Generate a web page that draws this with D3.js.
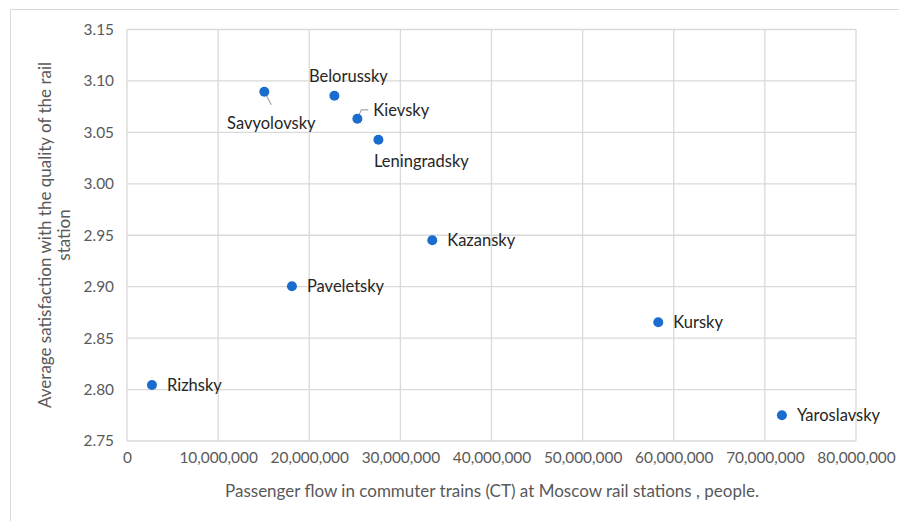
<!DOCTYPE html>
<html><head><meta charset="utf-8">
<script src="https://cdn.jsdelivr.net/npm/d3@7"></script>
<style>
body{margin:0;background:#fff;}
svg{display:block;font-family:Lato,"Open Sans",sans-serif;}
</style></head>
<body><svg id="c" width="899" height="521"></svg>
<script>
const stations = ["Savyolovsky","Belorussky","Kievsky","Leningradsky","Kazansky","Paveletsky","Kursky","Rizhsky","Yaroslavsky"];
const passengerFlow = [15070000,22760000,25280000,27590000,33500000,18100000,58300000,2740000,71870000];
const satisfaction = [3.0895,3.0856,3.0632,3.0428,2.9452,2.9005,2.8655,2.8045,2.7750];
const labelPos = ["below-leader","above","right-leader","below","right","right","right","right","right"];
const xTicks = [0,10000000,20000000,30000000,40000000,50000000,60000000,70000000,80000000];
const yTicks = [2.75,2.80,2.85,2.90,2.95,3.00,3.05,3.10,3.15];
const xTitle = "Passenger flow in commuter trains (CT) at Moscow rail stations , people.";
const yTitle = ["Average satisfaction with the quality of the rail","station"];

const svg = d3.select("#c");
const L=127,R=856,T=29.5,B=441;
const x = d3.scaleLinear().domain([0,80000000]).range([L,R]);
const y = d3.scaleLinear().domain([2.75,3.15]).range([B,T]);

svg.append("rect").attr("x",10.5).attr("y",9.5).attr("width",900).attr("height",520)
  .attr("fill","none").attr("stroke","#d9d9d9");

const grid = svg.append("g");
grid.selectAll(".gx").data(xTicks).join("line")
  .attr("x1",d=>x(d)).attr("x2",d=>x(d)).attr("y1",T).attr("y2",B)
  .attr("stroke","#d9d9d9").attr("stroke-width",1.3);
grid.selectAll(".gy").data(yTicks).join("line")
  .attr("x1",L).attr("x2",R).attr("y1",d=>y(d)).attr("y2",d=>y(d))
  .attr("stroke","#d9d9d9").attr("stroke-width",1.3);

const fmt = d3.format(",");
const xa = svg.append("g").attr("transform",`translate(0,${B})`)
  .call(d3.axisBottom(x).tickValues(xTicks).tickFormat(d=>fmt(d)).tickSize(0).tickPadding(11));
xa.select(".domain").remove();
xa.selectAll("text").attr("fill","#595959").attr("font-size",15.4).attr("font-family","Lato");

const ya = svg.append("g").attr("transform",`translate(${L},0)`)
  .call(d3.axisLeft(y).tickValues(yTicks).tickFormat(d3.format(".2f")).tickSize(0).tickPadding(13));
ya.select(".domain").remove();
ya.selectAll("text").attr("fill","#595959").attr("font-size",15.4).attr("font-family","Lato");

svg.append("text").attr("x",492).attr("y",497).attr("text-anchor","middle")
  .attr("fill","#595959").attr("font-size",17).text(xTitle);
const yt = svg.append("text").attr("transform","translate(51,235) rotate(-90)")
  .attr("text-anchor","middle").attr("fill","#595959").attr("font-size",17);
yTitle.forEach((t,i)=>yt.append("tspan").attr("x",0).attr("dy",i?19:0).text(t));

const data = stations.map((s,i)=>({s,x:passengerFlow[i],y:satisfaction[i],p:labelPos[i]}));
const lg = svg.append("g");
data.forEach(d=>{
  const px=x(d.x), py=y(d.y);
  if(d.p==="below-leader"){
    lg.append("line").attr("x1",px).attr("y1",py).attr("x2",px+7).attr("y2",py+13).attr("stroke","#a6a6a6").attr("stroke-width",1.2);
  }
  if(d.p==="right-leader"){
    lg.append("path").attr("d",`M${px},${py} L${px+4},${py-9} L${px+11},${py-9}`).attr("fill","none").attr("stroke","#a6a6a6").attr("stroke-width",1.2);
  }
});
svg.append("g").selectAll("circle").data(data).join("circle")
  .attr("cx",d=>x(d.x)).attr("cy",d=>y(d.y)).attr("r",5).attr("fill","#1a6dcc");

const lab = svg.append("g").attr("font-size",16.5).attr("fill","#262626");
data.forEach(d=>{
  const px=x(d.x), py=y(d.y);
  if(d.p==="right") lab.append("text").attr("x",px+15).attr("y",py+6).text(d.s);
  else if(d.p==="above") lab.append("text").attr("x",px+14).attr("y",py-14).attr("text-anchor","middle").text(d.s);
  else if(d.p==="below") lab.append("text").attr("x",px+43).attr("y",py+27).attr("text-anchor","middle").text(d.s);
  else if(d.p==="below-leader") lab.append("text").attr("x",px+7).attr("y",py+37).attr("text-anchor","middle").text(d.s);
  else if(d.p==="right-leader") lab.append("text").attr("x",px+16).attr("y",py-3).text(d.s);
});
</script></body></html>
